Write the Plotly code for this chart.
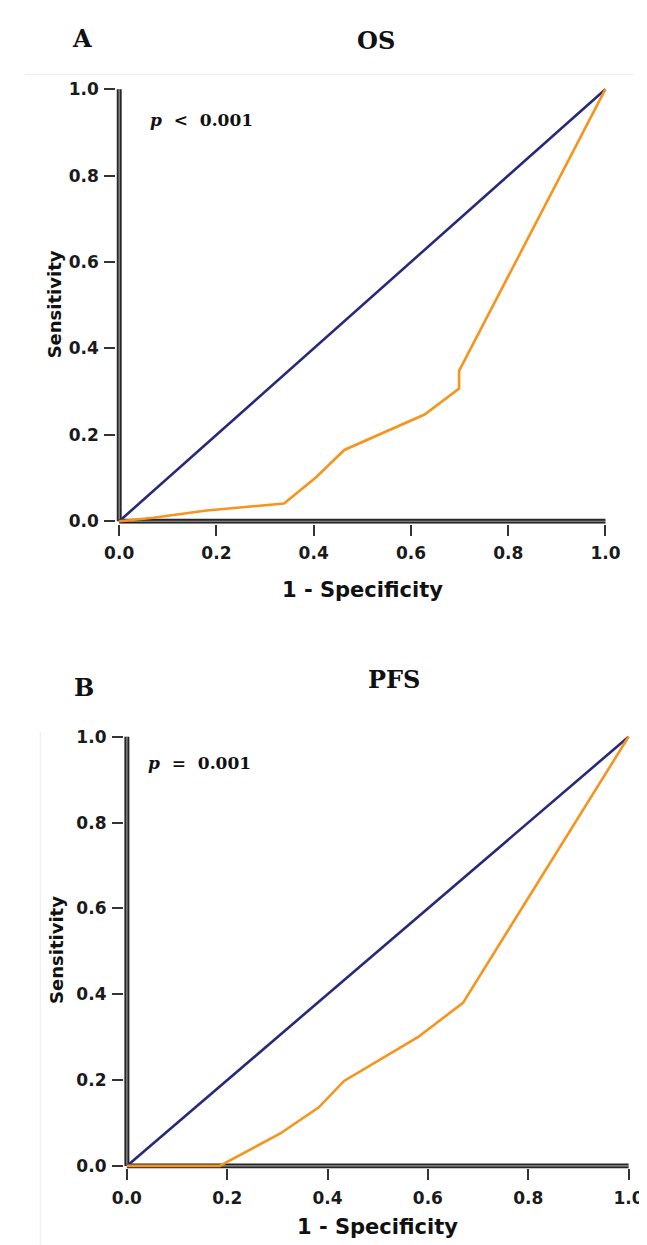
import plotly.graph_objects as go

W, H = 647, 1245

# ---------------- data ----------------
os_fpr = [0, 0.07, 0.18, 0.339, 0.405, 0.463, 0.628, 0.699, 0.699, 1.0]
os_tpr = [0, 0.008, 0.025, 0.041, 0.102, 0.165, 0.247, 0.307, 0.348, 1.0]
pfs_fpr = [0, 0.185, 0.305, 0.382, 0.433, 0.58, 0.67, 1.0]
pfs_tpr = [0, 0, 0.075, 0.136, 0.198, 0.30, 0.38, 1.0]
ref_line = [0, 1]
tick_vals = [0, 0.2, 0.4, 0.6, 0.8, 1.0]
tick_text = ["0.0", "0.2", "0.4", "0.6", "0.8", "1.0"]
panel_letters = ["A", "B"]
panel_titles = ["OS", "PFS"]
p_texts = ["<i>p</i>\u00a0 <\u00a0 0.001", "<i>p</i>\u00a0 =\u00a0 0.001"]
x_title = "1 - Specificity"
y_title = "Sensitivity"

# ---------------- geometry (pixels) ----------------
PAD = 0.006
geo = [
    dict(x0=103, x1=608, y0=512, y1=75),
    dict(x0=111, x1=632, y0=1164, y1=730),
]

def xdom(g):
    s = g["x1"] - g["x0"]
    return [(g["x0"] - PAD * s) / W, (g["x1"] + PAD * s) / W]

def ydom(g):
    s = g["y0"] - g["y1"]
    return [1 - (g["y0"] + PAD * s) / H, 1 - (g["y1"] - PAD * s) / H]

BLUE = "#262a78"
ORANGE = "#f7941d"
TICKFONT = dict(family="DejaVu Sans", size=17, color="#1a1a1a", weight="bold")

fig = go.Figure()

curves = [(os_fpr, os_tpr), (pfs_fpr, pfs_tpr)]
for i, (fx, fy) in enumerate(curves):
    xa = "x" if i == 0 else "x2"
    ya = "y" if i == 0 else "y2"
    fig.add_trace(go.Scatter(x=ref_line, y=ref_line, mode="lines",
                             line=dict(color=BLUE, width=2.6),
                             xaxis=xa, yaxis=ya, showlegend=False, hoverinfo="skip"))
    fig.add_trace(go.Scatter(x=fx, y=fy, mode="lines",
                             line=dict(color=ORANGE, width=2.6),
                             xaxis=xa, yaxis=ya, showlegend=False, hoverinfo="skip"))

axis_common = dict(
    range=[-PAD, 1 + PAD], showgrid=False, zeroline=False, showline=False,
    ticks="outside", ticklen=11, tickwidth=1.6, tickcolor="#333",
    tickvals=tick_vals, ticktext=tick_text, tickfont=TICKFONT,
    fixedrange=True,
)

layout_axes = {}
for i, g in enumerate(geo):
    sx = "xaxis" if i == 0 else "xaxis2"
    sy = "yaxis" if i == 0 else "yaxis2"
    layout_axes[sx] = dict(axis_common, domain=xdom(g), anchor="y" if i == 0 else "y2",
                           ticklabelstandoff=3)
    layout_axes[sy] = dict(axis_common, domain=ydom(g), anchor="x" if i == 0 else "x2",
                           ticklabelstandoff=2)

shapes = []
# faint border lines of the original scans
shapes.append(dict(type="line", xref="paper", yref="paper",
                   x0=5 / W, x1=637 / W, y0=1 - 60 / H, y1=1 - 60 / H,
                   line=dict(color="#ececec", width=1), layer="below"))
shapes.append(dict(type="line", xref="paper", yref="paper",
                   x0=21 / W, x1=21 / W, y0=0, y1=1 - 725 / H,
                   line=dict(color="#ececec", width=1), layer="below"))
# double-line axes
for i in range(2):
    xr = "x" if i == 0 else "x2"
    yr = "y" if i == 0 else "y2"
    for (a0, b0, a1, b1) in [(0, 0, 1, 0), (0, 0, 0, 1)]:
        shapes.append(dict(type="line", xref=xr, yref=yr, x0=a0, y0=b0, x1=a1, y1=b1,
                           line=dict(color="#262626", width=5), layer="below"))
        shapes.append(dict(type="line", xref=xr, yref=yr, x0=a0, y0=b0, x1=a1, y1=b1,
                           line=dict(color="#9a9a9a", width=1.2), layer="below"))

ann = []
def px_ann(text, x, y, size, family, xanchor="center", textangle=0, weight="bold"):
    ann.append(dict(text=text, x=x / W, y=1 - y / H, xref="paper", yref="paper",
                    showarrow=False, xanchor=xanchor, yanchor="middle",
                    textangle=textangle,
                    font=dict(family=family, size=size, color="#111", weight=weight)))

letter_pos = [(64, 24), (66, 680)]
title_pos = [(370, 26), (388, 672)]
p_pos = [(133, 106), (131, 757)]
ytitle_pos = [(36, 293), (38, 946)]
xtitle_pos = [(356, 582), (371, 1226)]
for i in range(2):
    px_ann(panel_letters[i], *letter_pos[i], 24, "DejaVu Serif")
    px_ann(panel_titles[i], *title_pos[i], 24, "DejaVu Serif")
    px_ann(p_texts[i], *p_pos[i], 17, "DejaVu Serif", xanchor="left")
    px_ann(y_title, *ytitle_pos[i], 18, "DejaVu Sans", textangle=-90)
    px_ann(x_title, *xtitle_pos[i], 21, "DejaVu Sans")

fig.update_layout(
    width=W, height=H, margin=dict(l=0, r=0, t=0, b=0),
    paper_bgcolor="white", plot_bgcolor="white",
    shapes=shapes, annotations=ann, showlegend=False,
    **layout_axes,
)

fig.write_html("out.html")
